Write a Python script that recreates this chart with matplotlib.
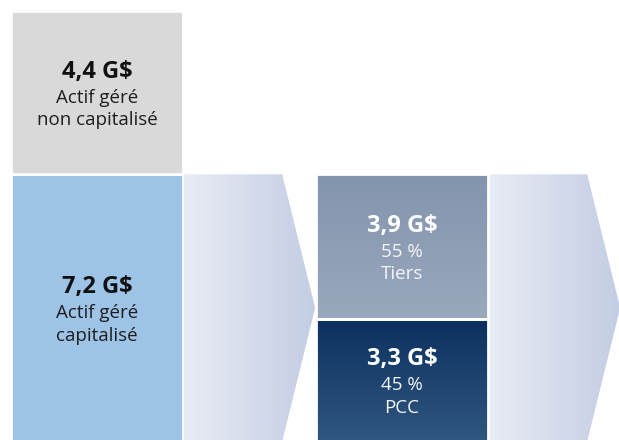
import numpy as np
import matplotlib.pyplot as plt
from matplotlib.colors import LinearSegmentedColormap
from matplotlib.patches import Polygon

plt.rcParams['font.family'] = ['Open Sans', 'DejaVu Sans']

# left column: capitalised (bottom) / non capitalised (top), G$
left_values = [7.2, 4.4]
left_titles = ['7,2 G$', '4,4 G$']
left_lines = [['Actif géré', 'capitalisé'], ['Actif géré', 'non capitalisé']]
left_colors = ['#9dc3e6', '#d9d9d9']

# middle column: split of the capitalised assets
right_values = [3.3, 3.9]
right_titles = ['3,3 G$', '3,9 G$']
right_pcts = ['45 %', '55 %']
right_names = ['PCC', 'Tiers']
# (bottom colour, top colour) for each block
right_grads = [('#30577f', '#0b305f'), ('#9aa8bd', '#8394ad')]

bw = 0.567
fig = plt.figure(figsize=(6.19, 4.40), dpi=100)
ax = fig.add_axes([0, 0, 1, 1])
ax.axis('off')

ltop = left_values[0] + left_values[1]
xlim = (-97 / 305, 522 / 305)
ylim = (0.04, ltop / (1 - 11 / 440))

lbars = ax.bar([0, 0], left_values, bottom=[0, left_values[0]], width=bw,
               color=left_colors, edgecolor='white', linewidth=2)

rbottoms = [0, right_values[0]]
rbars = ax.bar([1, 1], right_values, bottom=rbottoms, width=bw,
               color='none', edgecolor='white', linewidth=2, zorder=3)
vgrad = np.linspace(0, 1, 256).reshape(-1, 1)
for bar, (c0, c1) in zip(rbars, right_grads):
    cm = LinearSegmentedColormap.from_list('g', [c0, c1])
    x0 = bar.get_x()
    y0 = bar.get_y()
    im = ax.imshow(vgrad, extent=(x0, x0 + bar.get_width(), y0, y0 + bar.get_height()),
                   origin='lower', cmap=cm, aspect='auto', zorder=2)
    im.set_clip_path(bar)

# chevron arrows after each column
arrow_cm = LinearSegmentedColormap.from_list('a', ['#e8ecf5', '#c3cde3'])
hgrad = np.linspace(0, 1, 256).reshape(1, -1)
h = left_values[0]
for col in [0, 1]:
    start = col + 170 / 305 / 2 + 0.0066
    flat = start + 0.322
    tip = start + 0.43
    pts = [(start, 0), (start, h), (flat, h), (tip, h / 2), (flat, 0)]
    poly = Polygon(pts, closed=True, facecolor='none', edgecolor='none')
    ax.add_patch(poly)
    im = ax.imshow(hgrad, extent=(start, tip, 0, h), cmap=arrow_cm,
                   aspect='auto', zorder=1)
    im.set_clip_path(poly)

ax.set_xlim(*xlim)
ax.set_ylim(*ylim)

offs = [15.0, -3.6, -20.0]


def label(x, yc, lines, color, subcolor):
    ax.annotate(lines[0], (x, yc), xytext=(0, offs[0]), textcoords='offset points',
                ha='center', va='center', fontsize=17, fontweight='bold', color=color)
    for t, o in zip(lines[1:], offs[1:]):
        ax.annotate(t, (x, yc), xytext=(0, o), textcoords='offset points',
                    ha='center', va='center', fontsize=13.5, color=subcolor)


for bar, title, lines in zip(lbars, left_titles, left_lines):
    label(0, bar.get_y() + bar.get_height() / 2, [title] + lines,
          '#111111', '#1e1e1e')

for bar, title, pct, name in zip(rbars, right_titles, right_pcts, right_names):
    label(1, bar.get_y() + bar.get_height() / 2, [title, pct, name],
          'white', '#f4f6f9')

fig.savefig('out.png', dpi=100)
